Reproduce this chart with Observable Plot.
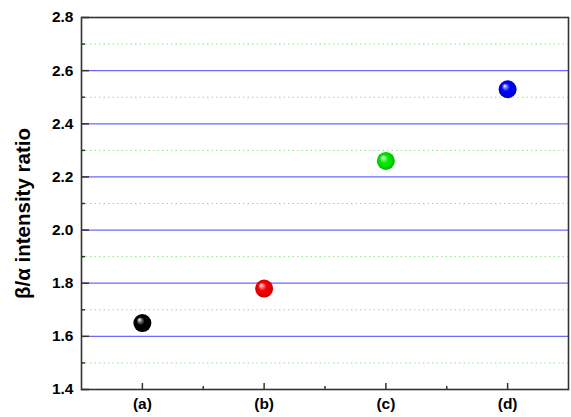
<!DOCTYPE html>
<html><head><meta charset="utf-8">
<script src="https://cdn.jsdelivr.net/npm/d3@7"></script>
<script src="https://cdn.jsdelivr.net/npm/@observablehq/plot@0.6"></script>
<style>body{margin:0;background:#fff;} svg{display:block;}</style>
</head><body>
<div id="chart"></div>
<script>
const categories = ["(a)", "(b)", "(c)", "(d)"];
const ratios = [1.65, 1.78, 2.26, 2.53];
const ballColors = ["#000000", "#ff0000", "#00ee00", "#0000ff"];
const yMajor = [1.4, 1.6, 1.8, 2.0, 2.2, 2.4, 2.6, 2.8];
const yMinor = [1.5, 1.7, 1.9, 2.1, 2.3, 2.5, 2.7];
const xMinor = [1, 2, 3];
const yLabel = "β/α intensity ratio";

const data = categories.map((c, i) => ({cat: c, x: i + 0.5, y: ratios[i], i}));
const font = "Liberation Sans, Arial, sans-serif";

const plot = Plot.plot({
  width: 571, height: 417,
  marginLeft: 81, marginRight: 3, marginTop: 17, marginBottom: 28,
  style: {fontFamily: font, background: "#fff"},
  x: {domain: [0, 4], axis: null},
  y: {domain: [1.4, 2.8], axis: null},
  marks: [
    Plot.ruleY(yMinor, {stroke: "#88e888", strokeWidth: 1, strokeDasharray: "1.5,3"}),
    Plot.ruleY(yMajor.slice(1, -1), {stroke: "#6a6aff", strokeWidth: 1.2}),
    Plot.axisY(yMajor, {tickSize: -8, tickPadding: 16, tickFormat: d3.format(".1f"), fontSize: 15.5, fontWeight: "bold", fill: "#000", stroke: "#333", strokeWidth: 1.5, label: null}),
    Plot.axisY(yMinor, {tickSize: -4, tickFormat: () => "", stroke: "#333", strokeWidth: 1.5, label: null}),
    Plot.axisX(data.map(d => d.x), {tickSize: -6, tickPadding: 14, tickFormat: (d, i) => categories[i], fontSize: 15.5, fontWeight: "bold", fill: "#000", stroke: "#333", strokeWidth: 1.5, label: null}),
    Plot.axisX(xMinor, {tickSize: -3, tickFormat: () => "", stroke: "#333", strokeWidth: 1.5, label: null}),
    Plot.frame({stroke: "#333", strokeWidth: 1.6}),
    Plot.text([yLabel], {frameAnchor: "left", textAnchor: "middle", dx: -58, dy: 10, rotate: -90, fontSize: 20.5, fontWeight: "bold", fill: "#000"}),
    Plot.dot(data, {x: "x", y: "y", r: 9, fill: d => `url(#ball${d.i})`, stroke: "none"})
  ]
});

const svg = d3.select(plot);
const defs = svg.insert("defs", ":first-child");
ballColors.forEach((c, i) => {
  const g = defs.append("radialGradient").attr("id", `ball${i}`)
    .attr("cx", "50%").attr("cy", "50%").attr("r", "50%")
    .attr("fx", "32%").attr("fy", "30%");
  const light = d3.interpolateRgb(c, "#ffffff");
  g.append("stop").attr("offset", "0%").attr("stop-color", "#ffffff");
  g.append("stop").attr("offset", "18%").attr("stop-color", light(0.55));
  g.append("stop").attr("offset", "45%").attr("stop-color", c);
  g.append("stop").attr("offset", "100%").attr("stop-color", d3.interpolateRgb(c, "#000")(0.2));
});
document.getElementById("chart").appendChild(plot);
</script>
</body></html>
